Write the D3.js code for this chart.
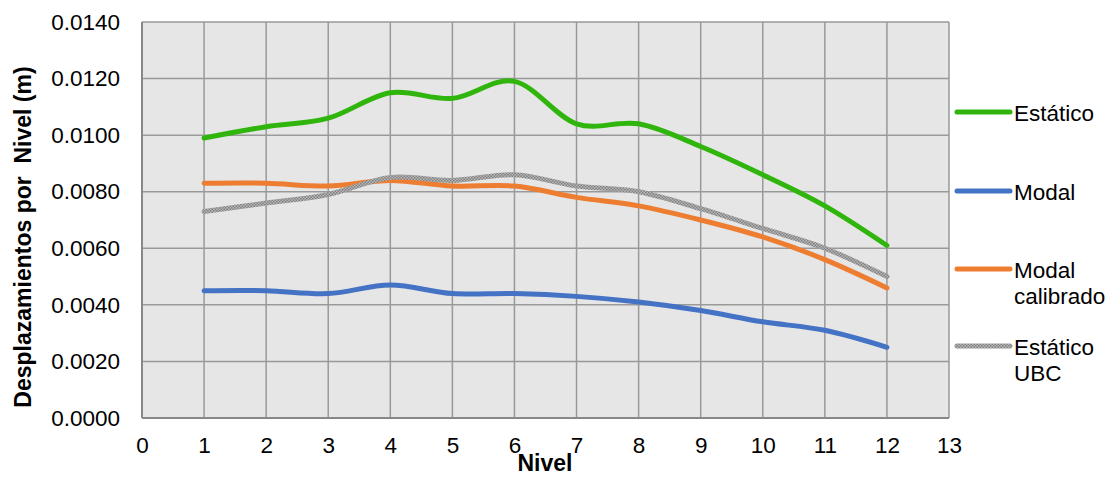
<!DOCTYPE html>
<html><head><meta charset="utf-8">
<script src="https://cdn.jsdelivr.net/npm/d3@7"></script>
<style>body{margin:0;background:#fff}svg{display:block}text{font-family:"Liberation Sans",Arial,sans-serif}</style>
</head><body><svg id="c" width="1116" height="477"></svg>
<script>
const niveles = [1,2,3,4,5,6,7,8,9,10,11,12];
const estatico = [0.0099,0.0103,0.0106,0.0115,0.0113,0.0119,0.0104,0.0104,0.0096,0.0086,0.0075,0.0061];
const modal = [0.0045,0.0045,0.0044,0.0047,0.0044,0.0044,0.0043,0.0041,0.0038,0.0034,0.0031,0.0025];
const modalCalibrado = [0.0083,0.0083,0.0082,0.0084,0.0082,0.0082,0.0078,0.0075,0.0070,0.0064,0.0056,0.0046];
const estaticoUBC = [0.0073,0.0076,0.0079,0.0085,0.0084,0.0086,0.0082,0.0080,0.0074,0.0067,0.0060,0.0050];
const xTicks = d3.range(0,14);
const yTicks = [0,0.002,0.004,0.006,0.008,0.010,0.012,0.014];
const seriesNames = [["Estático"],["Modal"],["Modal","calibrado"],["Estático","UBC"]];

const svg = d3.select("#c");
const L=142,R=949,T=22,B=418;
const x = d3.scaleLinear().domain([0,13]).range([L,R]);
const y = d3.scaleLinear().domain([0,0.014]).range([B,T]);

const defs = svg.append("defs");
const pat = defs.append("pattern").attr("id","hatch").attr("patternUnits","userSpaceOnUse").attr("width",3).attr("height",3);
pat.append("rect").attr("width",3).attr("height",3).attr("fill","#b8b8b8");
pat.append("rect").attr("width",1.5).attr("height",1.5).attr("fill","#808080");
pat.append("rect").attr("x",1.5).attr("y",1.5).attr("width",1.5).attr("height",1.5).attr("fill","#808080");

svg.append("rect").attr("x",L).attr("y",T).attr("width",R-L).attr("height",B-T).attr("fill","#e6e6e6");
const g = svg.append("g");
g.selectAll(".vg").data(xTicks).join("line").attr("x1",d=>x(d)).attr("x2",d=>x(d)).attr("y1",T).attr("y2",B).attr("stroke","#999").attr("stroke-width",1.5);
g.selectAll(".hg").data(yTicks).join("line").attr("x1",L).attr("x2",R).attr("y1",d=>y(d)).attr("y2",d=>y(d)).attr("stroke","#999").attr("stroke-width",1.5);
svg.append("line").attr("x1",L).attr("x2",L).attr("y1",T).attr("y2",B).attr("stroke","#888").attr("stroke-width",2);
svg.append("line").attr("x1",L).attr("x2",R).attr("y1",B).attr("y2",B).attr("stroke","#888").attr("stroke-width",2);

const FS = 22.5;
const ax = d3.axisBottom(x).tickValues(xTicks).tickSize(0).tickFormat(d3.format("d"));
const axg = svg.append("g").attr("transform",`translate(0,${B})`).call(ax);
axg.select(".domain").remove();
axg.selectAll("text").attr("y",35).attr("dy",null).attr("font-size",FS).attr("fill","#000").attr("font-family","Liberation Sans, Arial, sans-serif");
const ay = d3.axisLeft(y).tickValues(yTicks).tickSize(0).tickPadding(22).tickFormat(d3.format(".4f"));
const ayg = svg.append("g").attr("transform",`translate(${L},0)`).call(ay);
ayg.select(".domain").remove();
ayg.selectAll("text").attr("font-size",FS).attr("fill","#000").attr("font-family","Liberation Sans, Arial, sans-serif");

svg.append("text").attr("x",545).attr("y",471).attr("text-anchor","middle").attr("font-size",23).attr("font-weight","bold").text("Nivel");
svg.append("text").attr("transform","translate(30.5,237) rotate(-90)").attr("text-anchor","middle").attr("font-size",23).attr("font-weight","bold").style("white-space","pre").attr("xml:space","preserve").text("Desplazamientos por  Nivel (m)");

const line = d3.line().x((d,i)=>x(niveles[i])).y(d=>y(d)).curve(d3.curveCatmullRom.alpha(0));
const series = [
  {v:estatico,c:"#2fb50c"},
  {v:modal,c:"#4472c4"},
  {v:modalCalibrado,c:"#ed7d31"},
  {v:estaticoUBC,c:"url(#hatch)"}
];
[2,3,1,0].forEach(i=>{
  const s=series[i];
  svg.append("path").attr("d",line(s.v)).attr("fill","none").attr("stroke",s.c).attr("stroke-width",5).attr("stroke-linecap","round").attr("stroke-linejoin","round");
});

const legY=[112,191,269,346];
seriesNames.forEach((n,i)=>{
  svg.append("line").attr("x1",957).attr("x2",1010).attr("y1",legY[i]).attr("y2",legY[i]).attr("stroke",series[i].c).attr("stroke-width",5).attr("stroke-linecap","round");
  const t=svg.append("text").attr("x",1014).attr("y",legY[i]+8.5).attr("font-size",FS);
  n.forEach((s,j)=>t.append("tspan").attr("x",1014).attr("dy",j?26:0).text(s));
});
</script></body></html>
